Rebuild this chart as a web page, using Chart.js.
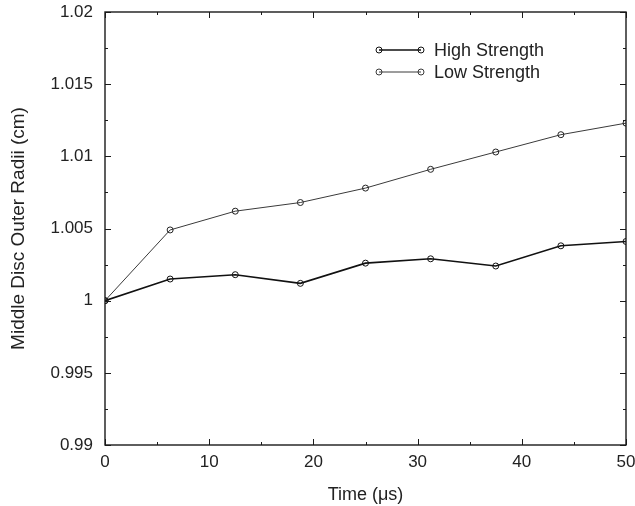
<!DOCTYPE html>
<html>
<head>
<meta charset="utf-8">
<script src="https://cdn.jsdelivr.net/npm/chart.js@4.4.1/dist/chart.umd.min.js"></script>
<style>
  html, body { margin: 0; padding: 0; background: #fff; }
  #wrap { width: 635px; height: 506px; position: relative; }
</style>
</head>
<body>
<div id="wrap"><canvas id="radiiChart"></canvas></div>
<script>
// ======================================================
// Data
// ======================================================

const times = [0, 6.25, 12.5, 18.75, 25, 31.25, 37.5, 43.75, 50];

const highStrength = [1.0, 1.0015, 1.0018, 1.0012, 1.0026, 1.0029, 1.0024, 1.0038, 1.0041];

const lowStrength = [1.0, 1.0049, 1.0062, 1.0068, 1.0078, 1.0091, 1.0103, 1.0115, 1.0123];

const xTicks = [0, 10, 20, 30, 40, 50];
const xMinorTicks = [5, 15, 25, 35, 45];

const yTicks = [0.99, 0.995, 1.0, 1.005, 1.01, 1.015, 1.02];
const yMinorTicks = [0.9925, 0.9975, 1.0025, 1.0075, 1.0125, 1.0175];

const seriesNames = ["High Strength", "Low Strength"];

const FONT = "'Liberation Sans', Arial, sans-serif";

// ======================================================
// Frame + inward ticks + legend
// ======================================================

const framePlugin = {
    id: "frame",
    afterDraw(chart) {
        const ctx = chart.ctx;
        const a = chart.chartArea;
        const xs = chart.scales.x;
        const ys = chart.scales.y;

        ctx.save();
        ctx.strokeStyle = "#1a1a1a";
        ctx.lineWidth = 1.4;
        ctx.strokeRect(a.left, a.top, a.right - a.left, a.bottom - a.top);

        ctx.lineWidth = 1;
        ctx.beginPath();
        function xt(list, len) {
            list.forEach(v => {
                let px = Math.round(xs.getPixelForValue(v)) + 0.5;
                ctx.moveTo(px, a.bottom); ctx.lineTo(px, a.bottom - len);
                ctx.moveTo(px, a.top); ctx.lineTo(px, a.top + len);
            });
        }
        function yt(list, len) {
            list.forEach(v => {
                let py = Math.round(ys.getPixelForValue(v)) + 0.5;
                ctx.moveTo(a.left, py); ctx.lineTo(a.left + len, py);
                ctx.moveTo(a.right, py); ctx.lineTo(a.right - len, py);
            });
        }
        xt(xTicks, 6); xt(xMinorTicks, 3);
        yt(yTicks, 6); yt(yMinorTicks, 3);
        ctx.stroke();

        // legend
        const lx0 = a.left + 274, lx1 = a.left + 316;
        const rows = [
            { y: a.top + 38, ds: chart.data.datasets[0] },
            { y: a.top + 60, ds: chart.data.datasets[1] }
        ];
        ctx.font = "18px " + FONT;
        ctx.textBaseline = "middle";
        rows.forEach(r => {
            ctx.strokeStyle = r.ds.borderColor;
            ctx.lineWidth = r.ds.borderWidth;
            ctx.beginPath();
            ctx.moveTo(lx0, r.y); ctx.lineTo(lx1, r.y);
            ctx.stroke();
            ctx.lineWidth = 1;
            [lx0, lx1].forEach(cx => {
                ctx.beginPath();
                ctx.arc(cx, r.y, 3, 0, Math.PI * 2);
                ctx.stroke();
            });
            ctx.fillStyle = "#222";
            ctx.fillText(r.ds.label, lx1 + 13, r.y + 1);
        });
        ctx.restore();
    }
};

// ======================================================
// Chart
// ======================================================

function makeSeries(values) {
    return times.map((t, i) => ({ x: t, y: values[i] }));
}

new Chart(document.getElementById("radiiChart"), {
    type: "line",
    data: {
        datasets: [
            {
                label: seriesNames[0],
                data: makeSeries(highStrength),
                borderColor: "#111",
                borderWidth: 1.6,
                pointRadius: 3,
                pointBorderWidth: 1,
                pointBorderColor: "#111",
                pointBackgroundColor: "rgba(0,0,0,0)",
                tension: 0
            },
            {
                label: seriesNames[1],
                data: makeSeries(lowStrength),
                borderColor: "#3a3a3a",
                borderWidth: 1,
                pointRadius: 3,
                pointBorderWidth: 1,
                pointBorderColor: "#222",
                pointBackgroundColor: "rgba(0,0,0,0)",
                tension: 0
            }
        ]
    },
    options: {
        responsive: true,
        maintainAspectRatio: false,
        animation: false,
        layout: { padding: { top: 12, right: 9, left: 0, bottom: 0 } },
        plugins: {
            legend: { display: false },
            tooltip: { enabled: false }
        },
        scales: {
            x: {
                type: "linear",
                min: 0,
                max: 50,
                afterBuildTicks(scale) { scale.ticks = xTicks.map(v => ({ value: v })); },
                grid: { display: false, drawTicks: false },
                border: { display: false },
                ticks: {
                    color: "#222",
                    padding: 7,
                    maxRotation: 0,
                    font: { family: FONT, size: 17 }
                },
                title: {
                    display: true,
                    text: "Time (μs)",
                    color: "#222",
                    padding: { top: 7, bottom: 0 },
                    font: { family: FONT, size: 18 }
                },
                afterFit(scale) {
                    scale.height = 61;
                    scale.paddingLeft = 0;
                    scale.paddingRight = 0;
                }
            },
            y: {
                min: 0.99,
                max: 1.02,
                afterBuildTicks(scale) { scale.ticks = yTicks.map(v => ({ value: v })); },
                grid: { display: false, drawTicks: false },
                border: { display: false },
                ticks: {
                    color: "#222",
                    padding: 12,
                    font: { family: FONT, size: 17 },
                    callback: v => String(parseFloat(Number(v).toFixed(4)))
                },
                title: {
                    display: true,
                    text: "Middle Disc Outer Radii (cm)",
                    color: "#222",
                    padding: { top: 7, bottom: 0 },
                    font: { family: FONT, size: 19 }
                },
                afterFit(scale) {
                    scale.width = 105;
                    scale.paddingTop = 0;
                    scale.paddingBottom = 0;
                }
            }
        }
    },
    plugins: [framePlugin]
});
</script>
</body>
</html>
